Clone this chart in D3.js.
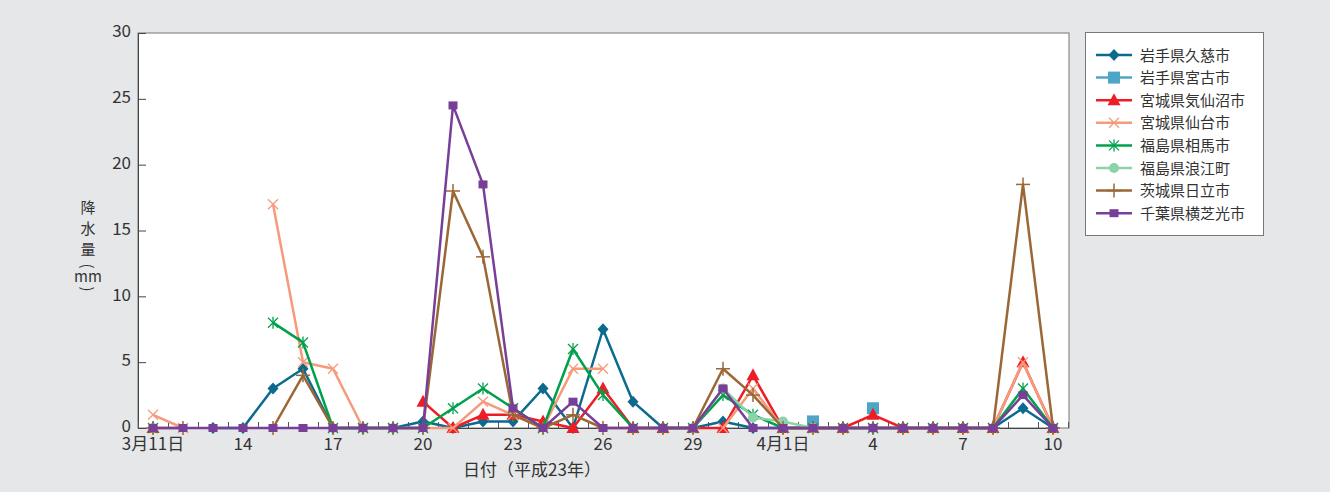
<!DOCTYPE html>
<html>
<head>
<meta charset="utf-8">
<script src="https://cdn.jsdelivr.net/npm/d3@7"></script>
<style>
    body { margin: 0; background: #e6e7e9; }
    svg { display: block; }
</style>
</head>
<body>
<div id="container"><svg></svg></div>
<script>
let width = 1330
let height = 492
let fontFamily = "'Noto Sans CJK JP', 'Noto Sans', sans-serif"

// days since 3/11 (0..30 -> 3/11 .. 4/10)
let xTickDays = [0, 3, 6, 9, 12, 15, 18, 21, 24, 27, 30]
let xTickLabels = ['3月11日', '14', '17', '20', '23', '26', '29', '4月1日', '4', '7', '10']
let yTicks = [0, 5, 10, 15, 20, 25, 30]

let seriesNames = ['岩手県久慈市', '岩手県宮古市', '宮城県気仙沼市', '宮城県仙台市',
    '福島県相馬市', '福島県浪江町', '茨城県日立市', '千葉県横芝光市']

// null = no observation
let kuji = [null, null, 0, 0, 3, 4.5, 0, 0, 0, 0.5, 0, 0.5, 0.5, 3, 0, 7.5, 2, 0, 0, 0.5, 0, 0, 0, 0, 0, 0, 0, 0, 0, 1.5, 0]
let miyako = [null, null, null, null, null, null, null, null, null, null, null, null, null, null, null, null, null, null, null, null, null, null, 0.5, null, 1.5, null, null, null, null, null, null]
let kesennuma = [0, null, null, null, null, null, null, null, null, 2, 0, 1, 1, 0.5, 0, 3, 0, 0, 0, 0, 4, 0, 0, 0, 1, 0, 0, 0, 0, 5, 0]
let sendai = [1, 0, null, null, 17, 5, 4.5, 0, 0, 0, 0, 2, 1, 0, 4.5, 4.5, null, null, null, 0, 3, 0, 0, 0, 0, 0, 0, 0, 0, 5, 0]
let souma = [0, null, null, null, 8, 6.5, 0, 0, 0, 0, 1.5, 3, 1.5, 0, 6, 2.5, 0, 0, 0, 2.5, 1, 0, 0, 0, 0, 0, 0, 0, 0, 3, 0]
let namie = [0, null, null, null, null, null, null, null, null, null, null, null, null, null, null, null, null, null, 0, 3, 0.8, 0.5, 0, null, null, null, null, null, null, null, null]
let hitachi = [0, 0, null, null, 0, 4, 0, 0, 0, 0, 18, 13, 1, 0, 1, 0, 0, 0, 0, 4.5, 2.5, 0, 0, 0, 0, 0, 0, 0, 0, 18.5, 0]
let yokoshiba = [0, 0, 0, 0, 0, 0, 0, 0, 0, 0, 24.5, 18.5, 1.5, 0, 2, 0, 0, 0, 0, 3, 0, 0, 0, 0, 0, 0, 0, 0, 0, 2.5, 0]

let seriesValues = [kuji, miyako, kesennuma, sendai, souma, namie, hitachi, yokoshiba]

// styles
let colors = ['#0b6a8e', '#4ea5c8', '#ee1d25', '#f69a7c', '#00a14b', '#8dd3a9', '#9b6736', '#773f97']
let markers = ['diamond', 'square', 'triangle', 'x', 'star', 'circle', 'plus', 'smallsquare']

let padding = { left: 138, right: 1069, top: 33, bottom: 428 }

function draw_marker(g, type, color) {
    if (type == 'diamond') {
        g.append('path').attr('d', 'M0,-6L5.5,0L0,6L-5.5,0Z').attr('fill', color)
    } else if (type == 'square') {
        g.append('rect').attr('x', -6).attr('y', -6).attr('width', 12).attr('height', 12).attr('fill', color)
    } else if (type == 'triangle') {
        g.append('path').attr('d', 'M0,-7L6.5,5L-6.5,5Z').attr('fill', color)
    } else if (type == 'circle') {
        g.append('circle').attr('r', 5).attr('fill', color)
    } else if (type == 'smallsquare') {
        g.append('rect').attr('x', -4.5).attr('y', -4).attr('width', 9).attr('height', 8).attr('fill', color)
    } else {
        let segs = []
        if (type == 'x') segs = [[-5, -5, 5, 5], [-5, 5, 5, -5]]
        if (type == 'plus') segs = [[-7, 0, 7, 0], [0, -7, 0, 7]]
        if (type == 'star') segs = [[-5, -5, 5, 5], [-5, 5, 5, -5], [0, -6, 0, 6]]
        segs.forEach(s => {
            g.append('line')
                .attr('x1', s[0]).attr('y1', s[1]).attr('x2', s[2]).attr('y2', s[3])
                .attr('stroke', color)
                .attr('stroke-width', type == 'plus' ? 1.5 : 1.3)
        })
    }
}

function draw_main() {
    let svg = d3.select('#container')
        .select('svg')
        .attr('width', width)
        .attr('height', height)
        .style('font-family', fontFamily)

    // plot background
    svg.append('rect')
        .attr('x', padding.left).attr('y', padding.top)
        .attr('width', padding.right - padding.left)
        .attr('height', padding.bottom - padding.top)
        .attr('fill', '#fff')
        .attr('stroke', '#777')
        .attr('stroke-width', 1)

    let x = d3.scaleLinear()
        .domain([0, 30])
        .range([153, 1053])
    let y = d3.scaleLinear()
        .domain([0, 30])
        .range([padding.bottom, padding.top])

    // y axis
    let axis_y = d3.axisLeft(y)
        .tickValues(yTicks)
        .tickSize(-8)
        .tickPadding(7)
    let gy = svg.append('g')
        .attr('transform', `translate(${padding.left}, 0)`)
        .call(axis_y)
    gy.select('.domain').attr('stroke', '#444')
    gy.selectAll('.tick line').attr('stroke', '#444')
    gy.selectAll('text')
        .attr('font-family', fontFamily)
        .attr('font-size', '17px')
        .attr('dy', '0.22em')
        .attr('fill', '#333')

    // x axis: minor ticks on day boundaries
    let axis_x = d3.axisBottom(x)
        .tickValues(d3.range(-0.5, 30.6, 1))
        .tickSize(-6)
        .tickFormat('')
    let gx = svg.append('g')
        .attr('transform', `translate(0, ${padding.bottom})`)
        .call(axis_x)
    gx.select('.domain').attr('stroke', '#444')
    gx.selectAll('.tick line').attr('stroke', '#555')

    svg.append('g')
        .selectAll('text')
        .data(xTickDays)
        .enter().append('text')
        .attr('x', d => x(d))
        .attr('y', padding.bottom + 22)
        .attr('text-anchor', 'middle')
        .attr('font-size', '17px')
        .attr('fill', '#333')
        .text((d, i) => xTickLabels[i])

    svg.append('text')
        .attr('x', 532)
        .attr('y', 476)
        .attr('text-anchor', 'middle')
        .attr('font-size', '17px')
        .attr('fill', '#333')
        .text('日付（平成23年）')

    // y axis title, stacked vertically
    let ytitle = [['降', 213], ['水', 234], ['量', 255]]
    let gt = svg.append('g')
        .attr('font-size', '15px')
        .attr('fill', '#333')
        .attr('text-anchor', 'middle')
    gt.selectAll('text.ch')
        .data(ytitle)
        .enter().append('text')
        .attr('class', 'ch')
        .attr('x', 88)
        .attr('y', d => d[1])
        .text(d => d[0])
    // parentheses turned sideways
    gt.append('text')
        .attr('transform', 'translate(88, 266) rotate(90)')
        .attr('dominant-baseline', 'central')
        .text('(')
    gt.append('text')
        .attr('x', 88)
        .attr('y', 282)
        .text('mm')
    gt.append('text')
        .attr('transform', 'translate(88, 289) rotate(90)')
        .attr('dominant-baseline', 'central')
        .text(')')

    // series
    let line = d3.line()
        .defined(d => d != null)
        .x((d, i) => x(i))
        .y(d => y(d))

    seriesValues.forEach((vals, k) => {
        let g = svg.append('g')
        g.append('path')
            .attr('d', line(vals))
            .attr('fill', 'none')
            .attr('stroke', colors[k])
            .attr('stroke-width', 2.5)
            .attr('stroke-linejoin', 'round')
        vals.forEach((v, i) => {
            if (v == null) return
            let m = g.append('g').attr('transform', `translate(${x(i)}, ${y(v)})`)
            draw_marker(m, markers[k], colors[k])
        })
    })

    // legend
    let legend = svg.append('g')
    legend.append('rect')
        .attr('x', 1085.5).attr('y', 32.5)
        .attr('width', 178).attr('height', 203)
        .attr('fill', '#fff')
        .attr('stroke', '#777')
    seriesNames.forEach((name, k) => {
        let ly = 55 + k * 22.6
        legend.append('line')
            .attr('x1', 1096).attr('x2', 1132)
            .attr('y1', ly).attr('y2', ly)
            .attr('stroke', colors[k])
            .attr('stroke-width', 2.5)
        let m = legend.append('g').attr('transform', `translate(1114, ${ly})`)
        draw_marker(m, markers[k], colors[k])
        legend.append('text')
            .attr('x', 1140)
            .attr('y', ly + 5.5)
            .attr('font-size', '15px')
            .attr('fill', '#333')
            .text(name)
    })
}

draw_main()
</script>
</body>
</html>
